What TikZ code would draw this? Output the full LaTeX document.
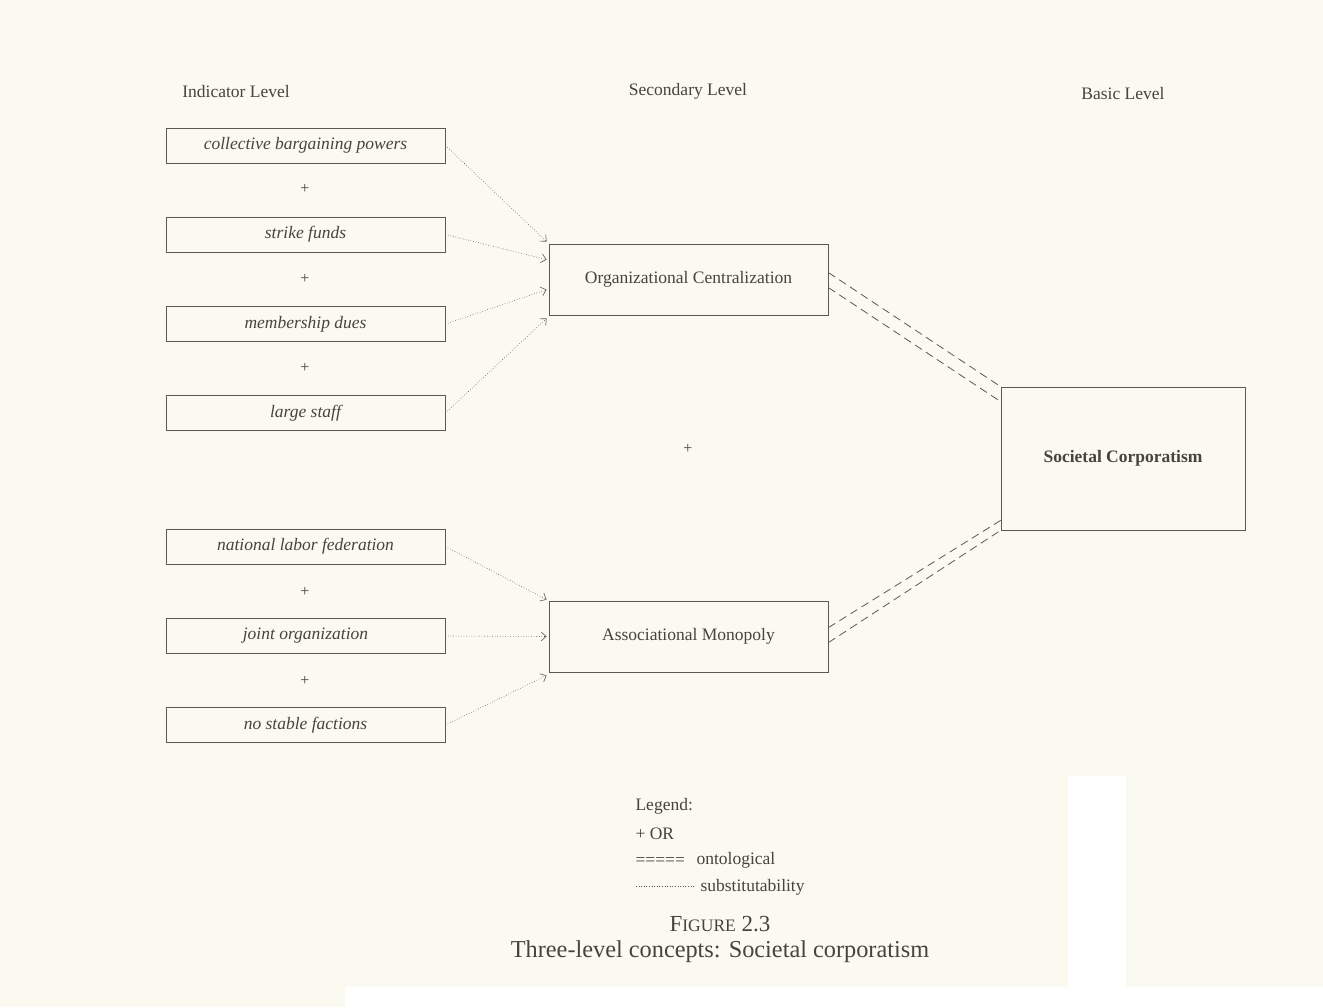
\documentclass[tikz,border=0pt]{standalone}
\usepackage{fontspec}
\setmainfont{Liberation Serif}
\usetikzlibrary{arrows.meta,calc}
\definecolor{paper}{HTML}{FBFAF0}
\definecolor{ink}{HTML}{5A5A52}
\definecolor{txt}{HTML}{45453D}
\begin{document}
\begin{tikzpicture}[x=1pt,y=-1pt,
  every node/.style={text=txt},
  font=\fontsize{17.5}{20}\selectfont,
  ind/.style={draw=ink, line width=0.8pt, minimum width=279pt, minimum height=35pt, inner sep=0pt, font=\fontsize{17.5}{20}\selectfont\itshape},
  sec/.style={draw=ink, line width=0.8pt, minimum width=279pt, minimum height=71pt, inner sep=0pt},
  basic/.style={draw=ink, line width=0.8pt, minimum width=244pt, minimum height=143pt, inner sep=0pt, font=\fontsize{17.5}{20}\selectfont\bfseries},
  subst/.style={draw=ink, dotted, line width=0.6pt, -{Straight Barb[length=5pt,width=9pt]}},
  onto/.style={draw=ink, dash pattern=on 8pt off 5pt, line width=0.8pt},
  plus/.style={font=\fontsize{16}{18}\selectfont},
]
\fill[paper] (0,0) rectangle (1323,1007);
\useasboundingbox (0,0) rectangle (1323,1007);
% scan artifacts
\fill[white] (345,987) rectangle (1323,1007);
\fill[white] (1068,776) rectangle (1126,1007);

% level headings
\node (hInd) at (236,92) {Indicator Level};
\node (hSec) at (688,91) {Secondary Level};
\node (hBas) at (1123,94) {Basic Level};

% indicator boxes
\node[ind] (i1) at (305.5,145.5) {collective bargaining powers};
\node[ind] (i2) at (305.5,234.5) {strike funds};
\node[ind] (i3) at (305.5,324) {membership dues};
\node[ind] (i4) at (305.5,413) {large staff};
\node[ind] (i5) at (305.5,546.5) {national labor federation};
\node[ind] (i6) at (305.5,636) {joint organization};
\node[ind] (i7) at (305.5,725) {no stable factions};

\node[plus] (p1) at (305,189) {+};
\node[plus] (p2) at (305,279) {+};
\node[plus] (p3) at (305,368) {+};
\node[plus] (p4) at (305,592) {+};
\node[plus] (p5) at (305,681) {+};
\node[plus] (p6) at (688,449) {+};

% secondary and basic
\node[sec] (oc) at (688.5,279.5) {Organizational Centralization};
\node[sec] (am) at (688.5,636.5) {Associational Monopoly};
\node[basic] (sc) at (1123,458.5) {Societal Corporatism};

% substitutability arrows
\draw[subst] (i1.east) -- ($(oc.north west)+(-2,-2)$);
\draw[subst] (i2.east) -- ($(oc.north west)+(-2,16)$);
\draw[subst] (i3.east) -- ($(oc.north west)+(-2,46)$);
\draw[subst] (i4.east) -- ($(oc.south west)+(-2,3)$);
\draw[subst] (i5.east) -- ($(am.north west)+(-2,-1)$);
\draw[subst] (i6.east) -- ($(am.west)+(-2,0)$);
\draw[subst] (i7.east) -- ($(am.south west)+(-2,3)$);

% ontological double lines
\draw[onto] ($(oc.north east)+(0,29)$) -- ($(sc.north west)+(0,0)$);
\draw[onto] ($(oc.north east)+(0,44)$) -- ($(sc.north west)+(0,15)$);
\draw[onto] ($(am.north east)+(0,27)$) -- ($(sc.south west)+(0,-10)$);
\draw[onto] ($(am.north east)+(0,42)$) -- ($(sc.south west)+(0,0)$);

% legend
\node[anchor=west] (lg) at (632,806) {Legend:};
\node[anchor=west] (lor) at (632,834) {+\ OR};
\node[anchor=west] (leq) at (632,861) {=====};
\node[anchor=west] (lon) at (693,860) {ontological};
\coordinate (ls1) at (636,886);
\coordinate (ls2) at (694,886);
\draw[draw=ink, dotted, line width=0.6pt] (ls1) -- (ls2);
\node[anchor=west] (lsu) at (697,887) {substitutability};

% caption
\node (fig) at (720,924) {\fontsize{23}{26}\selectfont F\fontsize{17.5}{20}\selectfont IGURE\fontsize{23}{26}\selectfont\ 2.3};
\node (cap) at (720,952) {\fontsize{24.3}{28}\selectfont Three-level concepts: Societal corporatism};
\end{tikzpicture}
\end{document}
